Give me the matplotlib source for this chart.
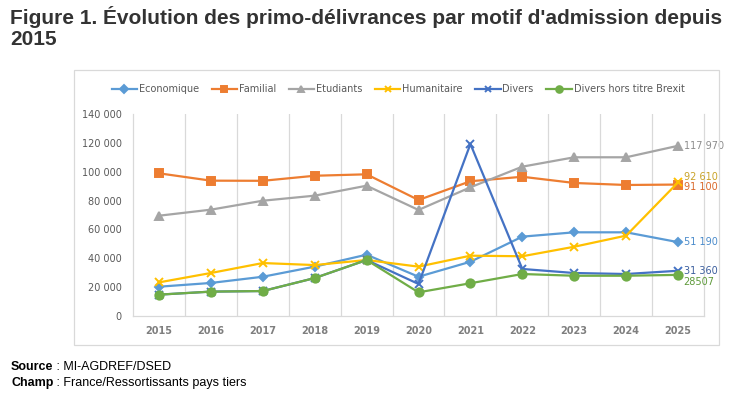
import matplotlib.pyplot as plt
from matplotlib.patches import Rectangle

# data
years = ['2015', '2016', '2017', '2018', '2019', '2020', '2021', '2022', '2023', '2024', '2025']
economique = [20300, 22900, 27200, 34200, 42500, 27200, 37600, 55000, 58000, 58000, 51190]
familial = [98900, 93800, 93700, 97200, 98200, 80400, 93400, 96500, 92200, 90800, 91100]
etudiants = [69500, 73700, 79900, 83400, 90300, 73500, 89200, 103500, 110000, 110000, 117970]
humanitaire = [23300, 29800, 36700, 35300, 38800, 34200, 41800, 41400, 48000, 55700, 92610]
divers = [14800, 16900, 17300, 26300, 38800, 22200, 119200, 32600, 29800, 29100, 31360]
divers_hors_brexit = [14800, 16900, 17300, 26300, 38800, 16400, 22700, 29100, 27900, 27900, 28507]
end_labels = ['117 970', '92 610', '91 100', '51 190', '31 360', '28507']

grid_col = '#D9D9D9'
txt_col = '#595959'

fig = plt.figure(figsize=(7.48, 3.96), dpi=100)
ax = fig.add_axes([133 / 748, 1 - 316 / 396, 571 / 748, 202 / 396])

x = list(range(len(years)))
series = [
    ('Economique', economique, '#5B9BD5', 'D', 4.5),
    ('Familial', familial, '#ED7D31', 's', 6),
    ('Etudiants', etudiants, '#A5A5A5', '^', 6),
    ('Humanitaire', humanitaire, '#FFC000', 'x', 6),
    ('Divers', divers, '#4472C4', 'x', 6),
    ('Divers hors titre Brexit', divers_hors_brexit, '#70AD47', 'o', 6),
]
for name, vals, col, mk, ms in series:
    ax.plot(x, vals, color=col, lw=1.6, marker=mk, markersize=ms,
            markeredgewidth=1.4, label=name)

ax.set_xlim(-0.5, 10.5)
ax.set_ylim(0, 140000)
ax.set_yticks(range(0, 140001, 20000))
ax.set_yticklabels([f'{v:,}'.replace(',', ' ') for v in range(0, 140001, 20000)])
ax.set_xticks(x)
ax.set_xticklabels(years)
ax.set_xticks([i + 0.5 for i in range(10)], minor=True)
ax.grid(True, which='minor', axis='x', color=grid_col, lw=0.9)
ax.tick_params(which='both', length=0)
ax.tick_params(axis='y', pad=8, labelsize=7, labelcolor=txt_col)
ax.tick_params(axis='x', pad=7, labelsize=7, labelcolor='#7F7F7F')
for lab in ax.get_xticklabels():
    lab.set_fontweight('bold')
ax.spines['top'].set_visible(False)
for s in ['left', 'bottom', 'right']:
    ax.spines[s].set_color(grid_col)
    ax.spines[s].set_linewidth(0.9)

# labels at the end of the lines
end_vals = [etudiants[-1], humanitaire[-1], familial[-1], economique[-1], divers[-1], divers_hors_brexit[-1]]
end_cols = ['#8C8C8C', '#C9A227', '#D9682A', '#4A8BCB', '#3B5E9E', '#5E9A3A']
end_dy = [0, 4, -2, 0, 0, -5]
for lab, v, c, dy in zip(end_labels, end_vals, end_cols, end_dy):
    ax.annotate(lab, xy=(10, v), xytext=(4, dy), textcoords='offset points',
                va='center', ha='left', fontsize=7, color=c, annotation_clip=False)

fig.legend(loc='center', bbox_to_anchor=(398 / 748, 1 - 89 / 396), ncol=6,
           frameon=False, fontsize=7, labelcolor=txt_col, handlelength=2.6,
           handletextpad=0.2, columnspacing=1.3, markerscale=0.8)

# chart frame
fig.patches.append(Rectangle((74 / 748, 1 - 345 / 396), 645 / 748, 275 / 396,
                             transform=fig.transFigure, fill=False,
                             edgecolor=grid_col, lw=0.9))

fig.text(10 / 748, 1 - 6 / 396,
         "Figure 1. Évolution des primo-délivrances par motif d'admission depuis\n2015",
         ha='left', va='top', fontsize=15, fontweight='bold', color='#333333',
         family='Liberation Sans', linespacing=1.15)

# footer: bold keyword followed by normal text
renderer = fig.canvas.get_renderer()
for word, rest, ypx in [('Source', ' : MI-AGDREF/DSED', 367),
                        ('Champ', ' : France/Ressortissants pays tiers', 383)]:
    t = fig.text(11 / 748, 1 - ypx / 396, word, ha='left', va='center',
                 fontsize=9, fontweight='bold', family='Liberation Sans')
    x_end = t.get_window_extent(renderer).x1
    fig.text(x_end / 748, 1 - ypx / 396, rest, ha='left', va='center',
             fontsize=9, family='Liberation Sans')

fig.savefig('out.png', dpi=100)
